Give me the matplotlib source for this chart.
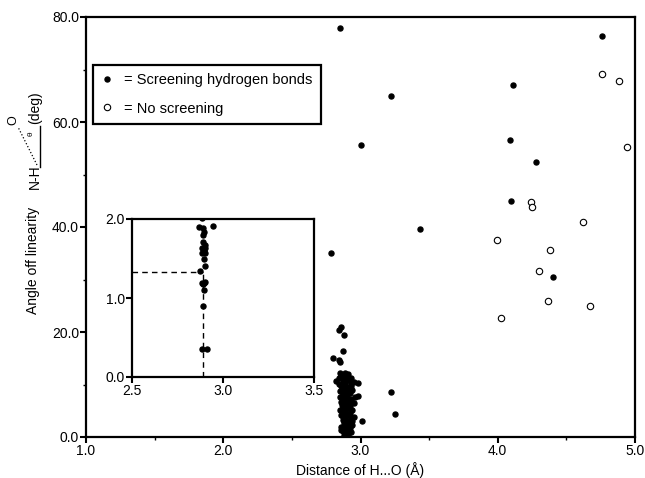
import numpy as np
import matplotlib.pyplot as plt
from matplotlib.lines import Line2D
from matplotlib.patches import Arc

plt.rcParams['font.family'] = ['Liberation Sans', 'DejaVu Sans']
plt.rcParams['font.size'] = 10

# screening hydrogen bonds (filled), scattered ones
scr_x = [2.848, 3.221, 3.005, 2.784, 3.430, 4.763, 4.112, 4.088, 4.277, 4.093, 4.399,
         3.22, 3.25]
scr_y = [78.0, 64.9, 55.6, 35.0, 39.6, 76.4, 67.1, 56.6, 52.4, 45.0, 30.4,
         8.5, 4.3]

# dense cluster around 2.9 A
clu_x = [2.857, 2.845, 2.879, 2.870, 2.797, 2.840, 2.850, 2.850, 2.886, 2.910, 2.825,
         2.930, 2.980, 2.980, 3.010,
         2.88, 2.91, 2.90, 2.87, 2.93, 2.89, 2.92, 2.86, 2.90, 2.94, 2.88, 2.91, 2.87,
         2.93, 2.89, 2.95, 2.86, 2.90, 2.92, 2.88, 2.85, 2.94, 2.90, 2.87, 2.92, 2.89,
         2.95, 2.86, 2.91, 2.88, 2.93, 2.85, 2.90, 2.96, 2.87, 2.92, 2.89, 2.85, 2.94,
         2.88, 2.91, 2.86, 2.93, 2.84, 2.89, 2.95, 2.87, 2.91, 2.84, 2.88, 2.93, 2.86,
         2.90, 2.89, 2.91, 2.87, 2.93, 2.90, 2.86, 2.92, 2.89, 2.94,
         2.875, 2.905, 2.885, 2.915, 2.865, 2.895, 2.875, 2.905, 2.885, 2.895]
clu_y = [20.9, 20.4, 19.4, 16.4, 15.0, 14.7, 14.2, 12.1, 12.1, 12.0, 10.7,
         10.2, 10.2, 7.8, 3.0,
         0.3, 0.4, 0.9, 1.2, 1.0, 1.6, 1.8, 2.0, 2.3, 2.2, 2.7, 3.0, 3.3,
         3.4, 3.7, 3.9, 4.1, 4.3, 4.6, 4.9, 5.1, 5.2, 5.5, 5.8, 6.0, 6.3,
         6.4, 6.7, 6.9, 7.2, 7.3, 7.6, 7.8, 7.7, 8.1, 8.3, 8.6, 8.8, 8.9,
         9.2, 9.4, 9.7, 9.8, 10.1, 10.3, 10.4, 10.7, 10.9, 11.2, 11.4, 11.3, 11.6,
         11.7, 5.0, 2.0, 3.9, 6.8, 9.0, 1.4, 4.0, 0.6, 3.0,
         1.9, 2.6, 4.4, 5.7, 6.1, 7.0, 8.4, 9.6, 10.0, 0.1]

# no screening (open)
nos_x = [4.756, 4.884, 4.945, 4.239, 4.246, 4.622, 3.991, 4.379, 4.299, 4.367, 4.671, 4.025]
nos_y = [69.1, 67.8, 55.3, 44.8, 43.9, 40.9, 37.5, 35.7, 31.6, 26.0, 25.0, 22.6]

# inset points
ins_x = [2.883, 2.868, 2.892, 2.945, 2.895, 2.892, 2.892, 2.900, 2.903, 2.887, 2.894,
         2.883, 2.902, 2.895, 2.900, 2.874, 2.883, 2.895, 2.903, 2.890, 2.897, 2.890,
         2.887, 2.914]
ins_y = [2.01, 1.895, 1.88, 1.91, 1.84, 1.80, 1.71, 1.67, 1.63, 1.63, 1.59,
         1.57, 1.57, 1.50, 1.405, 1.345, 1.19, 1.19, 1.20, 1.18, 1.10, 0.90,
         0.35, 0.35]
ref_x = 2.89
ref_y = 1.33

fig = plt.figure(figsize=(6.45, 4.78), dpi=100)
ax = fig.add_axes([86/645, 1-437/478, 549/645, 420/478])

ax.plot(scr_x + clu_x, scr_y + clu_y, 'o', color='black', markersize=3.6, linestyle='none')
ax.plot(nos_x, nos_y, 'o', markerfacecolor='white', markeredgecolor='black',
        markeredgewidth=0.8, markersize=4.6, linestyle='none')

ax.set_xlim(1.0, 5.0)
ax.set_ylim(0, 80)
ax.set_xticks([1.0, 2.0, 3.0, 4.0, 5.0])
ax.set_xticklabels(['1.0', '2.0', '3.0', '4.0', '5.0'])
ax.set_xticks([1.5, 2.5, 3.5, 4.5], minor=True)
ax.set_yticks([0, 20, 40, 60, 80])
ax.set_yticklabels(['0.0', '20.0', '40.0', '60.0', '80.0'])
ax.set_yticks([10, 30, 50, 70], minor=True)
for s in ax.spines.values():
    s.set_linewidth(1.6)
ax.tick_params(which='major', direction='out', length=4, width=1.5, pad=1, labelsize=10)
ax.tick_params(which='minor', direction='out', length=2, width=1)
ax.set_xlabel('Distance of H...O (\u00c5)', fontsize=10, labelpad=3)

# legend
h1 = Line2D([], [], marker='o', color='black', markersize=3.6, linestyle='none')
h2 = Line2D([], [], marker='o', markerfacecolor='white', markeredgecolor='black',
            markeredgewidth=0.8, markersize=4.6, linestyle='none')
leg = ax.legend([h1, h2], ['= Screening hydrogen bonds', '= No screening'],
                loc='upper left', bbox_to_anchor=(93/645, 1-65/478),
                bbox_transform=fig.transFigure, fancybox=False, framealpha=1,
                edgecolor='black', fontsize=10.5, handlelength=0.8, handletextpad=0.8,
                labelspacing=1.0, borderpad=0.55, borderaxespad=0)
leg.get_frame().set_linewidth(1.6)

# y label with little N-H...O angle sketch
def fx(px):
    return px / 645

def fy(py):
    return 1 - py / 478

fig.text(fx(33), fy(260), 'Angle off linearity', rotation=90, ha='center', va='center', fontsize=10)
fig.text(fx(35), fy(177), 'N-H', rotation=90, ha='center', va='center', fontsize=10)
fig.add_artist(Line2D([fx(40), fx(40)], [fy(167), fy(126)], color='black', lw=1.0,
                      transform=fig.transFigure))
fig.add_artist(Line2D([fx(37), fx(18)], [fy(165), fy(127)], color='black', lw=0.9,
                      linestyle=':', transform=fig.transFigure))
fig.text(fx(13), fy(120), 'O', rotation=90, ha='center', va='center', fontsize=9)
fig.text(fx(31), fy(134), '\u03b8', rotation=90, ha='center', va='center', fontsize=6)
fig.text(fx(35), fy(108), '(deg)', rotation=90, ha='center', va='center', fontsize=10)

# inset
ins = fig.add_axes([132/645, 1-377/478, 182/645, 158/478])
ins.plot(ins_x, ins_y, 'o', color='black', markersize=3.6, linestyle='none')
ins.plot([2.5, ref_x], [ref_y, ref_y], color='black', lw=1.0, linestyle=(0, (4, 3)))
ins.plot([ref_x, ref_x], [0, ref_y], color='black', lw=1.0, linestyle=(0, (4, 3)))
ins.set_xlim(2.5, 3.5)
ins.set_ylim(0, 2.0)
ins.set_xticks([2.5, 3.0, 3.5])
ins.set_xticklabels(['2.5', '3.0', '3.5'])
ins.set_yticks([0, 1.0, 2.0])
ins.set_yticklabels(['0.0', '1.0', '2.0'])
for s in ins.spines.values():
    s.set_linewidth(1.6)
ins.tick_params(direction='out', length=4, width=1.5, pad=1, labelsize=10)

fig.savefig('out.png', dpi=100)
